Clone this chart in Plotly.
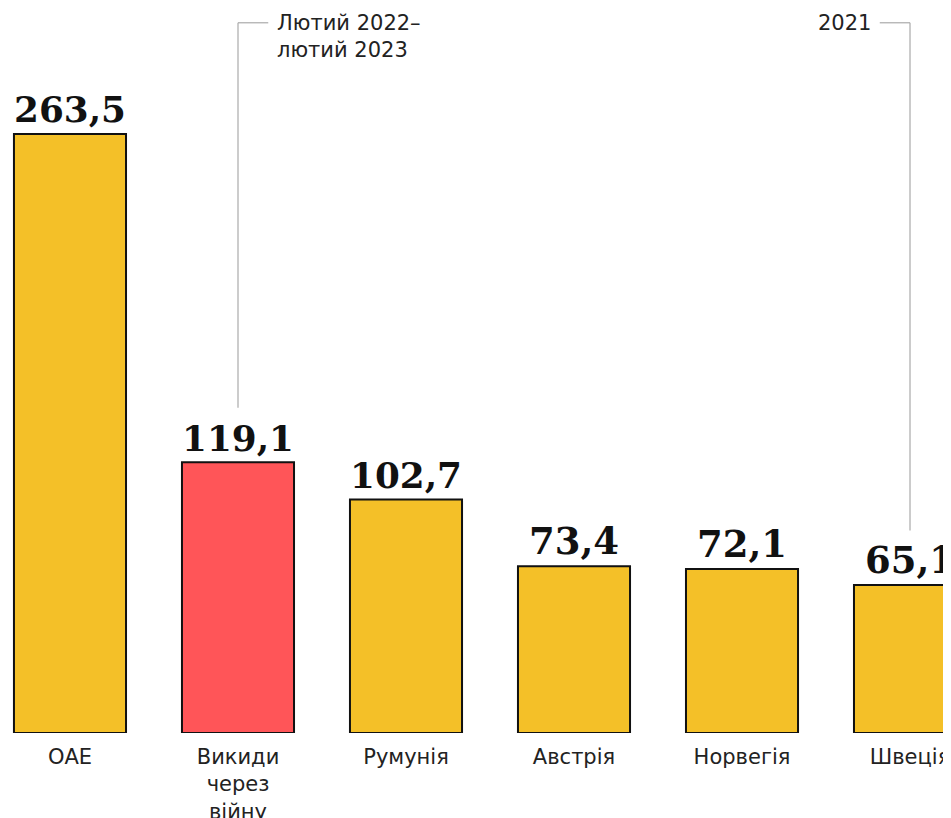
import plotly.graph_objects as go

categories = ["ОАЕ", "Викиди<br>через<br>війну", "Румунія", "Австрія", "Норвегія", "Швеція"]
values = [263.5, 119.1, 102.7, 73.4, 72.1, 65.1]
value_labels = ["263,5", "119,1", "102,7", "73,4", "72,1", "65,1"]
colors = ["#F4C028", "#FF5558", "#F4C028", "#F4C028", "#F4C028", "#F4C028"]

note_texts = ["Лютий 2022–<br>лютий 2023", "2021"]
note_bars = [1, 5]

x = list(range(len(categories)))

fig = go.Figure(go.Bar(
    x=x, y=values, width=0.667,
    marker=dict(color=colors, line=dict(color="#111111", width=2)),
    text=value_labels, textposition="outside", cliponaxis=False,
    textfont=dict(family="DejaVu Serif", size=37, color="#111111", weight="bold"),
))

y_top = 312.4
# leader lines
for i, t in zip(note_bars, note_texts):
    fig.add_shape(type="line", x0=i, x1=i, y0=values[i] + 24, y1=y_top,
                  xref="x", yref="y", line=dict(color="#AAAAAA", width=1.2))
    dx = 0.18 if i == 1 else -0.18
    fig.add_shape(type="line", x0=i, x1=i + dx, y0=y_top, y1=y_top,
                  xref="x", yref="y", line=dict(color="#AAAAAA", width=1.2))
    fig.add_annotation(x=i + dx, y=y_top, xref="x", yref="y", text=t,
                       showarrow=False, xanchor="left" if dx > 0 else "right",
                       yanchor="top" if i == 1 else "middle",
                       xshift=7 if dx > 0 else -7, yshift=14 if i == 1 else 0,
                       align="left",
                       font=dict(family="DejaVu Sans", size=21, color="#222222"))

fig.update_layout(
    width=943, height=818,
    margin=dict(l=0, r=0, t=0, b=93),
    plot_bgcolor="white", paper_bgcolor="white",
    showlegend=False,
    xaxis=dict(range=[-0.369, 5.244], tickmode="array", tickvals=x, ticktext=categories,
               showgrid=False, zeroline=False, showline=False, ticks="",
               ticklabelstandoff=9, automargin=False, ticklabeloverflow="allow",
               tickfont=dict(family="DejaVu Sans", size=21, color="#222222")),
    yaxis=dict(range=[0, 318.9], visible=False, automargin=False),
)

fig.write_html("out.html")
